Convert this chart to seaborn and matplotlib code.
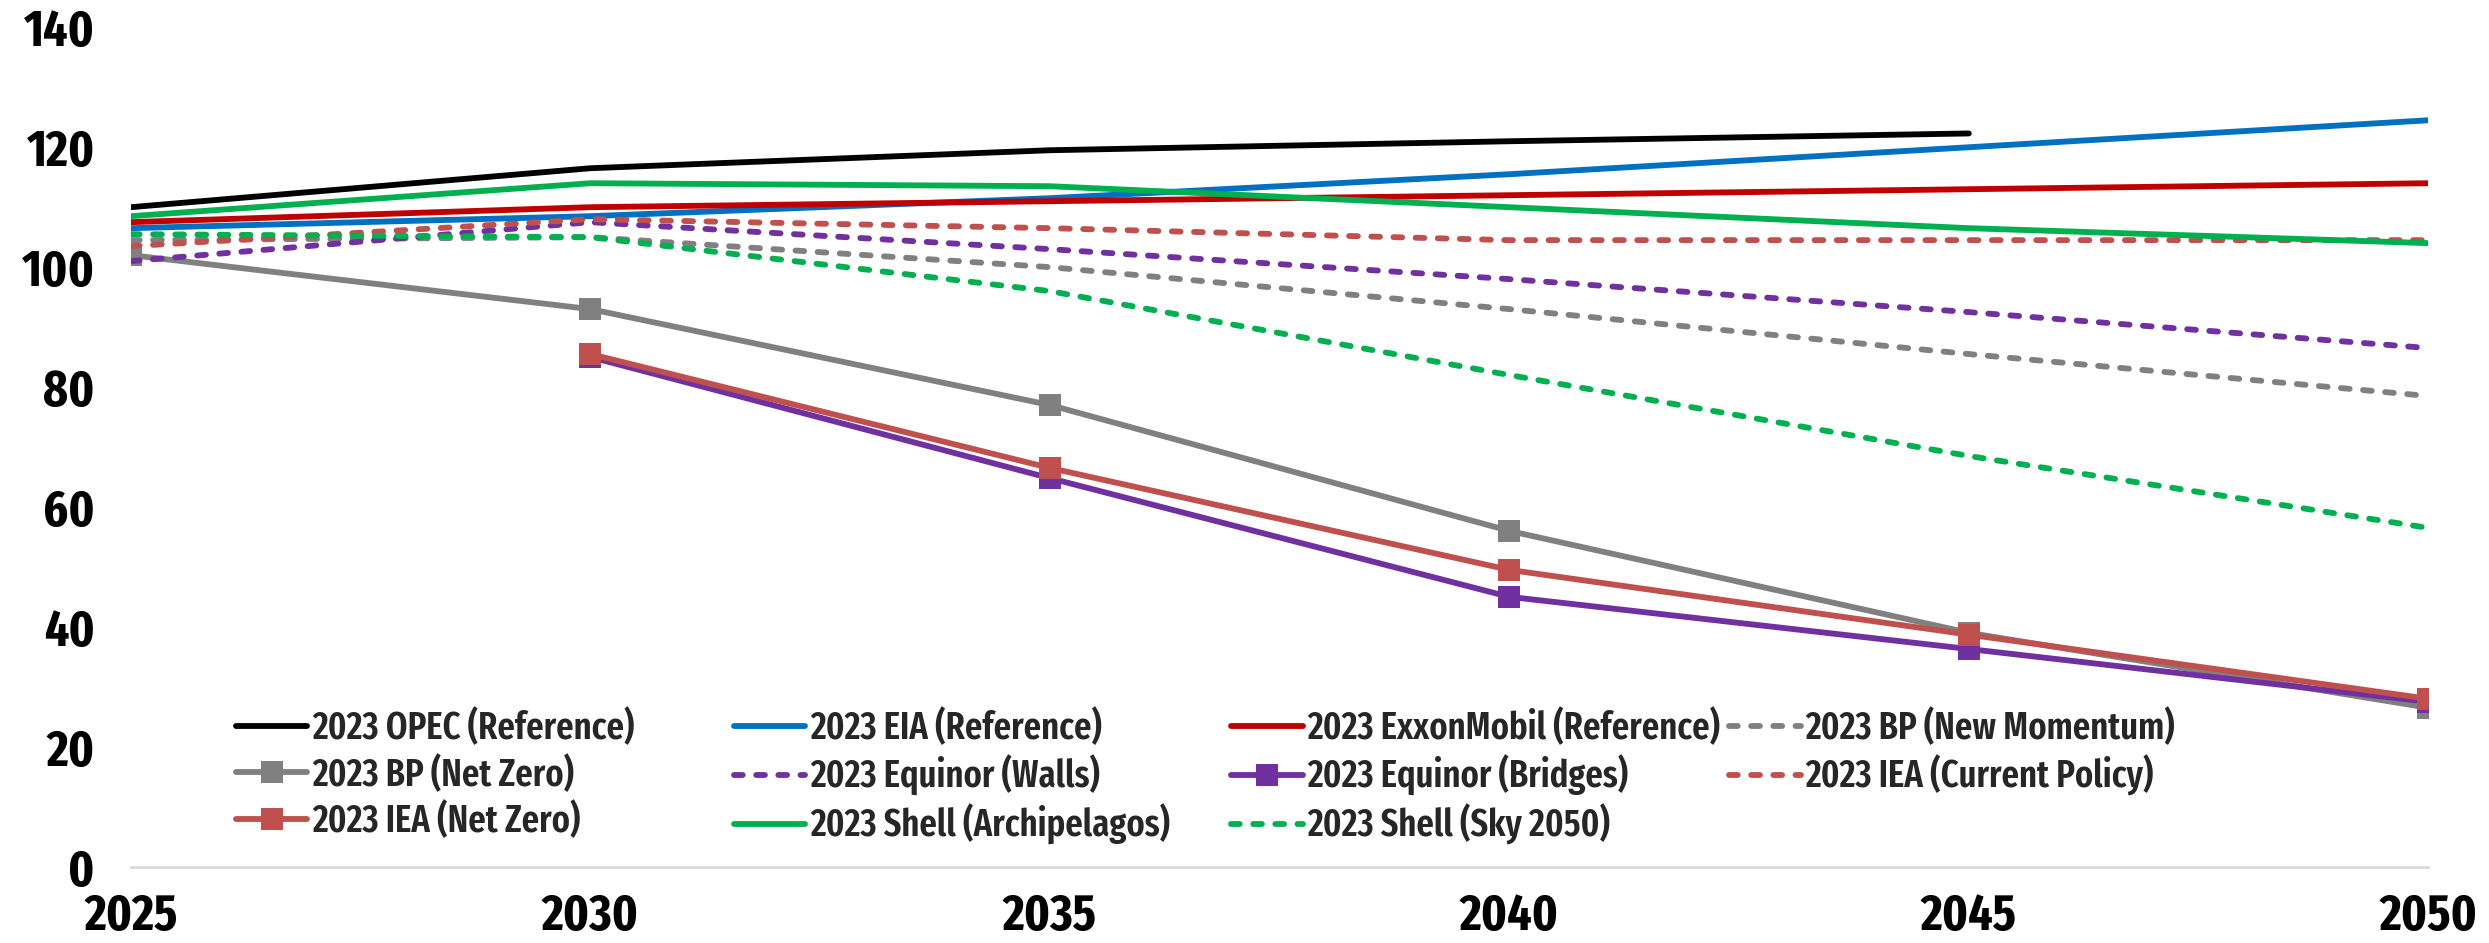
import matplotlib
matplotlib.use("Agg")
import matplotlib.pyplot as plt
import seaborn as sns
import pandas as pd
import numpy as np

years = [2025, 2030, 2035, 2040, 2045, 2050]

opec_ref = [110.0, 116.5, 119.5, 121.0, 122.3, np.nan]
eia_ref = [106.5, 108.5, 111.5, 115.5, 120.0, 124.5]
exxon_ref = [107.5, 110.0, 111.0, 112.0, 113.0, 114.0]
bp_new_momentum = [104.5, 105.0, 100.0, 93.0, 85.5, 78.5]
bp_net_zero = [102.0, 93.0, 77.0, 56.0, 39.0, 26.5]
equinor_walls = [101.0, 107.5, 103.0, 98.0, 92.5, 86.5]
equinor_bridges = [np.nan, 85.0, 64.8, 45.0, 36.3, 27.5]
iea_current_policy = [103.5, 108.0, 106.5, 104.5, 104.5, 104.5]
iea_net_zero = [np.nan, 85.5, 66.5, 49.5, 38.7, 28.0]
shell_archipelagos = [108.5, 114.0, 113.5, 110.0, 106.5, 104.0]
shell_sky = [105.5, 105.0, 96.0, 82.0, 68.5, 56.5]

labels = [
    "2023 OPEC (Reference)", "2023 EIA (Reference)", "2023 ExxonMobil (Reference)",
    "2023 BP (New Momentum)", "2023 BP (Net Zero)", "2023 Equinor (Walls)",
    "2023 Equinor (Bridges)", "2023 IEA (Current Policy)", "2023 IEA (Net Zero)",
    "2023 Shell (Archipelagos)", "2023 Shell (Sky 2050)",
]
series = [opec_ref, eia_ref, exxon_ref, bp_new_momentum, bp_net_zero, equinor_walls,
          equinor_bridges, iea_current_policy, iea_net_zero, shell_archipelagos, shell_sky]

y_ticks = [0, 20, 40, 60, 80, 100, 120, 140]
x_ticks = [2025, 2030, 2035, 2040, 2045, 2050]

# styles
colors = ["#000000", "#0070C0", "#C00000", "#808080", "#808080", "#7030A0",
          "#7030A0", "#C0504D", "#C0504D", "#00B050", "#00B050"]
dashed = [False, False, False, True, False, True, False, True, False, False, True]
markers = [None, None, None, None, "s", None, "s", None, "s", None, None]

sns.set_theme(style="white")
plt.rcParams["font.family"] = ["Fira Sans Extra Condensed", "Fira Sans Condensed", "DejaVu Sans"]

fig = plt.figure(figsize=(24.89, 9.43), dpi=100)
ax = fig.add_axes([0.0526, 0.081, 0.923, 0.89])

handles = {}
for lab, vals, c, d, m in zip(labels, series, colors, dashed, markers):
    df = pd.DataFrame({"year": years, "value": vals}).dropna()
    sns.lineplot(data=df, x="year", y="value", ax=ax, color=c, lw=4.2,
                 marker=m if m else None, markersize=16, markeredgewidth=0,
                 label=lab, legend=False)
    ln = ax.get_lines()[-1]
    if d:
        ln.set_dashes((1.5, 2.3))
        ln.set_dash_capstyle("round")
    else:
        ln.set_solid_capstyle("round")
    handles[lab] = ln

ax.set_xlim(2025, 2050)
ax.set_ylim(0, 140)
ax.set_xticks(x_ticks)
ax.set_yticks(y_ticks)
ax.set_xlabel("")
ax.set_ylabel("")
for s in ["top", "right", "left"]:
    ax.spines[s].set_visible(False)
ax.spines["bottom"].set_color("#D9D9D9")
ax.spines["bottom"].set_linewidth(2)
ax.tick_params(axis="both", length=0, labelsize=37, colors="black")
ax.tick_params(axis="x", pad=18)
ax.tick_params(axis="y", pad=26)
for t in ax.get_xticklabels() + ax.get_yticklabels():
    t.set_fontweight("bold")

# legend laid out as four fixed-width columns, like the reference
columns = [[0, 4, 8], [1, 5, 9], [2, 6, 10], [3, 7]]
col_x = [0.0458, 0.2625, 0.479, 0.6958]
legs = []
for cx, idx in zip(col_x, columns):
    lg = ax.legend([handles[labels[i]] for i in idx], [labels[i] for i in idx],
                   ncol=1, loc="upper left", bbox_to_anchor=(cx, 0.188),
                   frameon=False, prop={"size": 27, "weight": "semibold"},
                   handlelength=1.9, handletextpad=0.12, labelspacing=0.2,
                   borderaxespad=0, borderpad=0)
    legs.append(lg)
for lg in legs[:-1]:
    ax.add_artist(lg)

fig.savefig("out.png", dpi=100)
